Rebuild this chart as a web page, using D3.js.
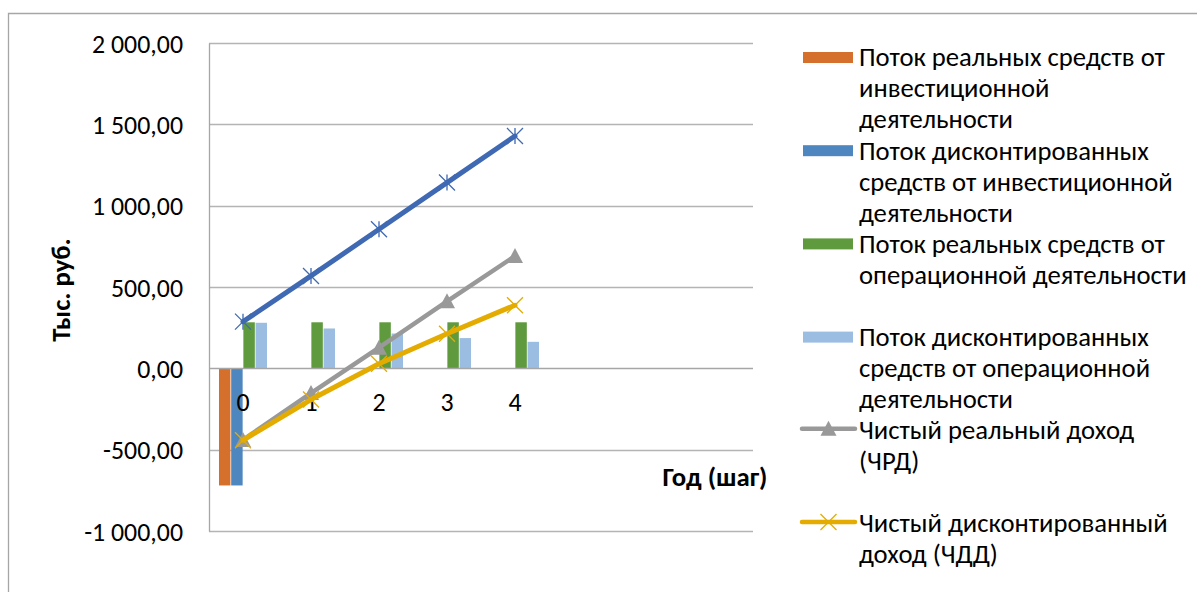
<!DOCTYPE html>
<html lang="ru">
<head>
<meta charset="utf-8">
<script src="https://cdn.jsdelivr.net/npm/d3@7"></script>
<style>
  html, body { margin: 0; padding: 0; background: #fff; }
  svg { display: block; }
  text { font-family: Carlito, Calibri, "Open Sans", sans-serif; fill: #000; }
</style>
</head>
<body>
<svg id="chart" width="1197" height="592"></svg>
<script>
// Годы (шаги) расчёта; ось категорий рассчитана на 8 строк таблицы
const years = ["0", "1", "2", "3", "4"];
const slotCount = 8;

// Денежные потоки, тыс. руб.
const investReal = [-720, 0, 0, 0, 0];
const investDisc = [-720, 0, 0, 0, 0];
const operReal = [283, 283, 283, 283, 283];
const operDisc = [280, 245, 214, 186, 163];
const operCumulative = [287, 568, 855, 1142, 1428];
const netReal = [-440, -152, 127, 412, 690];
const netDisc = [-442, -192, 28, 213, 388];

const yTicks = [-1000, -500, 0, 500, 1000, 1500, 2000];

const legendItems = [
  { type: "bar", color: "#d4702c", lines: ["Поток реальных средств от", "инвестиционной", "деятельности"] },
  { type: "bar", color: "#4e86bf", lines: ["Поток дисконтированных", "средств от инвестиционной", "деятельности"] },
  { type: "bar", color: "#5f9a3e", lines: ["Поток реальных средств от", "операционной деятельности"] },
  { type: "bar", color: "#9bbde1", lines: ["Поток дисконтированных", "средств от операционной", "деятельности"] },
  { type: "line", marker: "triangle", color: "#999999", lines: ["Чистый реальный доход", "(ЧРД)"] },
  { type: "line", marker: "x", color: "#e4ac00", lines: ["Чистый дисконтированный", "доход (ЧДД)"] }
];

const svg = d3.select("#chart");

// Подбор кегля под заданную ширину строки
function fitSize(str, targetWidth, weight) {
  const t = svg.append("text").attr("font-size", 20).attr("font-weight", weight || "normal").text(str);
  const w = t.node().getComputedTextLength();
  t.remove();
  return 20 * targetWidth / w;
}
const legendSize = fitSize("Поток реальных средств от", 306);
const tickSize = fitSize("2 000,00", 91);
const titleSize = fitSize("Год (шаг)", 105, "bold");

const fmt = v => {
  const s = d3.format(",.2f")(v);
  return s.replace(/,/g, " ").replace(".", ",").replace("−", "-");
};

// Рамка области диаграммы
svg.append("path")
  .attr("d", "M8.5,592 V13.5 H1197")
  .attr("fill", "none").attr("stroke", "#a6a6a6").attr("stroke-width", 1.3);

const plot = { left: 209, right: 753, top: 43, bottom: 531 };

const y = d3.scaleLinear().domain([-1000, 2000]).range([plot.bottom, plot.top]);
const x = d3.scaleBand().domain(d3.range(slotCount)).range([plot.left, plot.right])
  .paddingInner(0.294).paddingOuter(0.147);
const xs = d3.scaleBand().domain(d3.range(4)).range([0, x.bandwidth()]).paddingInner(0.06);
const cx = i => x(i) + x.bandwidth() / 2;

// Сетка
svg.append("g")
  .selectAll("line").data(yTicks.filter(v => v !== 0)).join("line")
  .attr("x1", plot.left).attr("x2", plot.right)
  .attr("y1", d => Math.round(y(d)) + 0.5).attr("y2", d => Math.round(y(d)) + 0.5)
  .attr("stroke", "#b4b4b4").attr("stroke-width", 1.3);

// Ось значений
const yAxis = svg.append("g")
  .attr("transform", `translate(${plot.left},0)`)
  .call(d3.axisLeft(y).tickValues(yTicks).tickSize(0).tickPadding(26).tickFormat(fmt));
yAxis.select(".domain").attr("stroke", "#a6a6a6").attr("stroke-width", 1.3);
yAxis.selectAll("text").attr("font-size", tickSize).attr("font-family", null).attr("dy", "0.35em");

// Столбцы
const barSeries = [investReal, investDisc, operReal, operDisc];
barSeries.forEach((vals, s) => {
  svg.append("g").selectAll("rect").data(vals).join("rect")
    .attr("x", (d, i) => x(i) + xs(s))
    .attr("width", xs.bandwidth())
    .attr("y", d => Math.min(y(d), y(0)))
    .attr("height", d => Math.abs(y(d) - y(0)))
    .attr("fill", legendItems[s].color);
});

// Ось категорий (проходит через ноль)
svg.append("line")
  .attr("x1", plot.left).attr("x2", plot.right)
  .attr("y1", Math.round(y(0)) + 0.5).attr("y2", Math.round(y(0)) + 0.5)
  .attr("stroke", "#a6a6a6").attr("stroke-width", 1.3);
svg.append("g").selectAll("text").data(years).join("text")
  .attr("x", (d, i) => cx(i)).attr("y", y(0) + 43)
  .attr("text-anchor", "middle").attr("font-size", tickSize)
  .text(d => d);

// Линии
const line = d3.line().x((d, i) => cx(i)).y(d => y(d));

function drawSeries(vals, color, width, marker) {
  const g = svg.append("g");
  g.append("path").datum(vals).attr("d", line)
    .attr("fill", "none").attr("stroke", color).attr("stroke-width", width)
    .attr("stroke-linecap", "round").attr("stroke-linejoin", "round");
  vals.forEach((v, i) => drawMarker(g, cx(i), y(v), marker, color));
}

function drawMarker(g, px, py, type, color) {
  const r = 8;
  if (type === "triangle") {
    g.append("path")
      .attr("d", `M${px},${py - 8} L${px + 8},${py + 7} L${px - 8},${py + 7} Z`)
      .attr("fill", color);
  } else {
    let d = `M${px - r},${py - r} L${px + r},${py + r} M${px - r},${py + r} L${px + r},${py - r}`;
    if (type === "star") d += ` M${px},${py - r} L${px},${py + r}`;
    g.append("path").attr("d", d).attr("stroke", color).attr("stroke-width", 1.3).attr("fill", "none");
  }
}

drawSeries(operCumulative, "#3f69b2", 5, "star");
drawSeries(netReal, "#999999", 4.5, "triangle");
drawSeries(netDisc, "#e4ac00", 5, "x");

// Подписи осей
svg.append("text")
  .attr("x", 715).attr("y", 477).attr("dy", "0.35em")
  .attr("text-anchor", "middle").attr("font-weight", "bold").attr("font-size", titleSize)
  .text("Год (шаг)");
svg.append("text")
  .attr("transform", "translate(61,290) rotate(-90)")
  .attr("dy", "0.35em")
  .attr("text-anchor", "middle").attr("font-weight", "bold").attr("font-size", titleSize)
  .text("Тыс. руб.");

// Легенда
const legend = svg.append("g");
legendItems.forEach((item, k) => {
  const top = 57 + k * 93.2;
  const g = legend.append("g");
  if (item.type === "bar") {
    g.append("rect").attr("x", 803).attr("y", top - 5).attr("width", 50).attr("height", 11).attr("fill", item.color);
  } else {
    g.append("line").attr("x1", 802).attr("x2", 855).attr("y1", top - 1).attr("y2", top - 1)
      .attr("stroke", item.color).attr("stroke-width", 4.5).attr("stroke-linecap", "round");
    drawMarker(g, 828.5, top - 1, item.marker, item.color);
  }
  item.lines.forEach((ln, j) => {
    g.append("text").attr("x", 859).attr("y", top + j * 31).attr("dy", "0.35em")
      .attr("font-size", legendSize).text(ln);
  });
});
</script>
</body>
</html>
